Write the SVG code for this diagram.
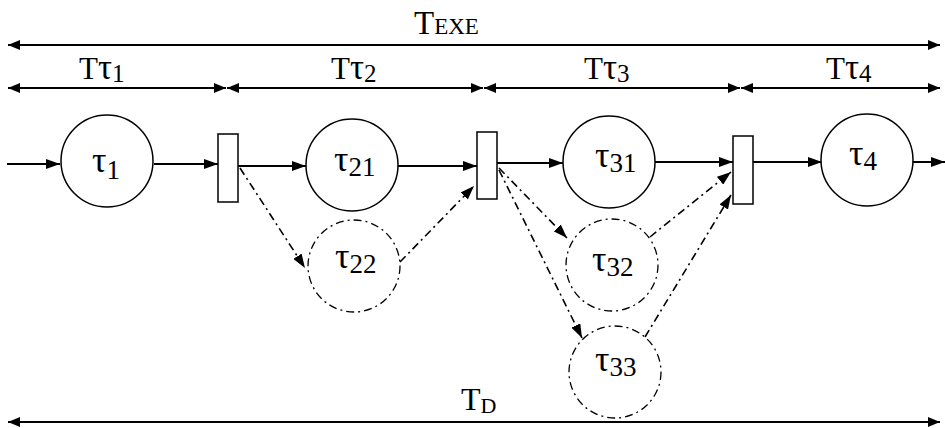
<svg xmlns="http://www.w3.org/2000/svg" width="945" height="428" viewBox="0 0 945 428">
<style>
.ln{stroke:#000;stroke-width:2;fill:none}
.dim{stroke:#000;stroke-width:2.2;fill:none}
.pl{stroke:#000;stroke-width:1.5;fill:#fff}
.dpl{stroke:#000;stroke-width:1.3;fill:#fff;stroke-dasharray:8,4,2,4}
.dln{stroke:#000;stroke-width:1.6;fill:none;stroke-dasharray:8,4,2,4}
.tr{stroke:#000;stroke-width:1.5;fill:#fff}
text{font-family:"Liberation Serif","Times New Roman",serif;fill:#000}
.lb{font-size:36px}
.sb{font-size:27px}
</style>
<defs>
<marker id="ah" viewBox="0 0 14 10" refX="14" refY="5" markerWidth="14" markerHeight="10" orient="auto-start-reverse" markerUnits="userSpaceOnUse"><path d="M0,0 L14,5 L0,10 z" fill="#000"/></marker>
<marker id="da" viewBox="0 0 12 10" refX="12" refY="5" markerWidth="12" markerHeight="10" orient="auto-start-reverse" markerUnits="userSpaceOnUse"><path d="M0,0 L12,5 L0,10 z" fill="#000"/></marker>
</defs>
<g id="dimensions">
<line class="dim" x1="8" y1="45" x2="940" y2="45" marker-start="url(#da)" marker-end="url(#da)"/>
<line class="dim" x1="8" y1="88" x2="226" y2="88" marker-start="url(#da)" marker-end="url(#da)"/>
<line class="dim" x1="227" y1="88" x2="483" y2="88" marker-start="url(#da)" marker-end="url(#da)"/>
<line class="dim" x1="484" y1="88" x2="740" y2="88" marker-start="url(#da)" marker-end="url(#da)"/>
<line class="dim" x1="741" y1="88" x2="940" y2="88" marker-start="url(#da)" marker-end="url(#da)"/>
<line class="dim" x1="8" y1="422" x2="940" y2="422" marker-start="url(#da)" marker-end="url(#da)"/>
<text x="414" y="34" font-size="33">T<tspan font-size="23">EXE</tspan></text>
<text x="79" y="79" font-size="31">T<tspan font-size="35">τ</tspan><tspan font-size="25" dy="3">1</tspan></text>
<text x="331" y="79" font-size="31">T<tspan font-size="35">τ</tspan><tspan font-size="25" dy="3">2</tspan></text>
<text x="584" y="79" font-size="31">T<tspan font-size="35">τ</tspan><tspan font-size="25" dy="3">3</tspan></text>
<text x="826" y="79" font-size="31">T<tspan font-size="35">τ</tspan><tspan font-size="25" dy="3">4</tspan></text>
<text x="461" y="410" font-size="32">T<tspan font-size="22" dy="3">D</tspan></text>
</g>
<g id="connectors">
<line class="ln" x1="7" y1="164" x2="60" y2="164" marker-end="url(#ah)"/>
<line class="ln" x1="154" y1="164" x2="218" y2="164" marker-end="url(#ah)"/>
<line class="ln" x1="238" y1="166" x2="306" y2="166" marker-end="url(#ah)"/>
<line class="ln" x1="398" y1="166" x2="477" y2="166" marker-end="url(#ah)"/>
<line class="ln" x1="497" y1="163" x2="563" y2="163" marker-end="url(#ah)"/>
<line class="ln" x1="655" y1="162" x2="733" y2="162" marker-end="url(#ah)"/>
<line class="ln" x1="753" y1="162" x2="822" y2="162" marker-end="url(#ah)"/>
<line class="ln" x1="913" y1="162" x2="945" y2="162" marker-end="url(#ah)"/>
<line class="dln" x1="240" y1="168" x2="305" y2="268" marker-end="url(#ah)"/>
<line class="dln" x1="400" y1="262" x2="474" y2="186" marker-end="url(#ah)"/>
<line class="dln" x1="499" y1="168" x2="567" y2="238" marker-end="url(#ah)"/>
<line class="dln" x1="499" y1="170" x2="582" y2="338" marker-end="url(#ah)"/>
<line class="dln" x1="650" y1="237" x2="731" y2="172" marker-end="url(#ah)"/>
<line class="dln" x1="645" y1="337" x2="731" y2="195" marker-end="url(#ah)"/>
</g>
<g id="t1"><rect class="tr" x="218" y="134" width="20" height="68"/></g>
<g id="t2"><rect class="tr" x="477" y="132" width="20" height="67"/></g>
<g id="t3"><rect class="tr" x="733" y="136" width="20" height="68"/></g>
<g id="p1"><circle class="pl" cx="107" cy="161" r="46"/><text x="92" y="172" class="lb">τ<tspan class="sb" dy="7">1</tspan></text></g>
<g id="p21"><circle class="pl" cx="352" cy="165" r="46"/><text x="334" y="171" class="lb">τ<tspan class="sb" dy="5">21</tspan></text></g>
<g id="p22"><circle class="dpl" cx="354" cy="266" r="46"/><text x="335" y="268" class="lb">τ<tspan class="sb" dy="5">22</tspan></text></g>
<g id="p31"><circle class="pl" cx="609" cy="162" r="46"/><text x="595" y="167" class="lb">τ<tspan class="sb" dy="5">31</tspan></text></g>
<g id="p32"><circle class="dpl" cx="612" cy="265" r="46"/><text x="592" y="271" class="lb">τ<tspan class="sb" dy="5">32</tspan></text></g>
<g id="p33"><circle class="dpl" cx="615" cy="372" r="46"/><text x="595" y="371" class="lb">τ<tspan class="sb" dy="5">33</tspan></text></g>
<g id="p4"><circle class="pl" cx="867" cy="160" r="46"/><text x="849" y="165" class="lb">τ<tspan class="sb" dy="5">4</tspan></text></g>
</svg>
